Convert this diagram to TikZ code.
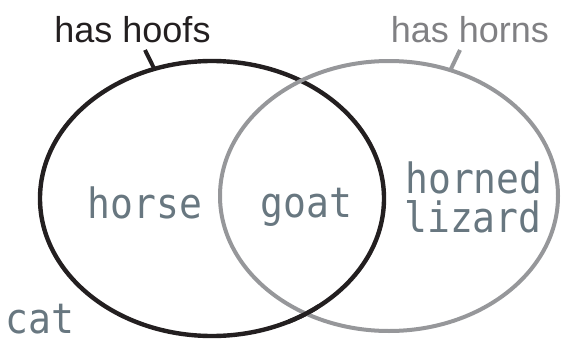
\documentclass[tikz,border=0pt]{standalone}
\usepackage{fontspec}
\setmainfont{Liberation Sans}
\newfontfamily\monof{DejaVu Sans Mono}
\usetikzlibrary{shapes.geometric}
\definecolor{blk}{RGB}{35,31,32}
\definecolor{gry}{RGB}{150,151,154}
\definecolor{txt}{RGB}{104,119,128}
\newcommand\tallword[1]{\scalebox{1}[1.1]{#1}}
\tikzset{
  ell/.style={ellipse, inner sep=0pt, outer sep=0pt},
  blkring/.style={ell, draw=blk, line width=3.3pt, minimum width=258pt, minimum height=206.25pt},
  gryring/.style={ell, draw=gry, line width=3pt, minimum width=253.5pt, minimum height=202.5pt},
  tickline/.style={line width=3pt},
  setlabel/.style={anchor=base, inner sep=0pt, font=\fontsize{27}{30}\selectfont},
  item/.style={anchor=base, inner sep=0pt, text=txt, font=\monof\fontsize{28.5}{30}\selectfont}
}
\begin{document}
\begin{tikzpicture}[x=0.75pt,y=-0.75pt]
\useasboundingbox (0,0) rectangle (561,343);
\node[blkring] (hoofs) at (212,198.5) {};
\node[gryring] (horns) at (389,196) {};
\begin{scope}
  \clip (288,300) rectangle (318,335);
  \node[blkring] (hoofsover) at (212,198.5) {};
\end{scope}
\coordinate (t1) at (145,50);
\coordinate (t2) at (460,50);
\draw[tickline, blk] (hoofs.114) -- (t1);
\draw[tickline, gry] (horns.64) -- (t2);
\node[setlabel, text=blk] (lhoofs) at (132.5,42) {has hoofs};
\node[setlabel, text=gry!85!black] (lhorns) at (470,42) {has horns};
\node[item] (horse) at (145,218) {\tallword{horse}};
\node[item] (goat) at (306.5,217) {\tallword{goat}};
\node[item] (horned) at (474,193) {\tallword{horned}};
\node[item] (lizard) at (473,232) {\tallword{lizard}};
\node[item] (cat) at (40,333) {\tallword{cat}};
\end{tikzpicture}
\end{document}
